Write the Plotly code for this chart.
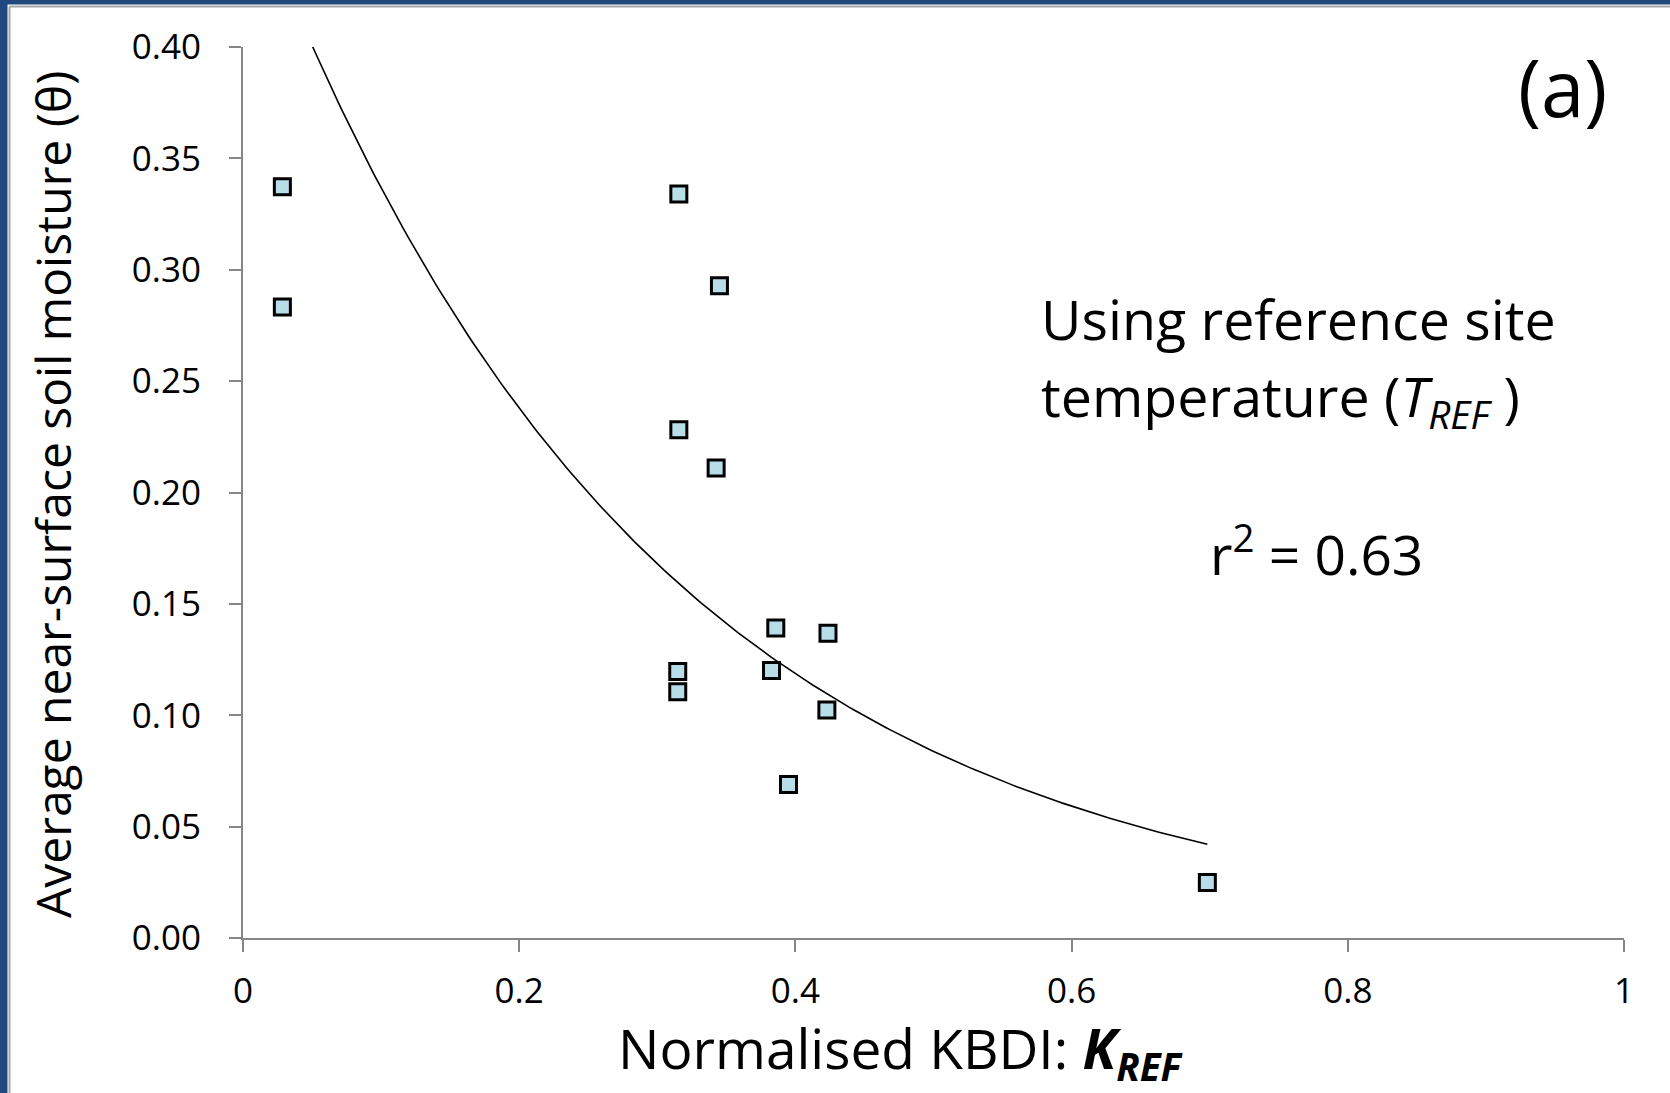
import numpy as np
import plotly.graph_objects as go

# ---- data ----
kref = [0.0285, 0.0285, 0.3156, 0.3450, 0.3156, 0.3426, 0.3858,
        0.4236, 0.3148, 0.3148, 0.3827, 0.4228, 0.3950, 0.6983]
theta = [0.3373, 0.2833, 0.3340, 0.2928, 0.2282, 0.2110, 0.1392,
         0.1368, 0.1196, 0.1105, 0.1201, 0.1024, 0.0689, 0.0249]
x_ticks = [0, 0.2, 0.4, 0.6, 0.8, 1]
y_ticks = [0.00, 0.05, 0.10, 0.15, 0.20, 0.25, 0.30, 0.35, 0.40]

# exponential trendline fitted to the data (as Excel does: ln y = ln a + b x)
b_fit, lna_fit = np.polyfit(np.array(kref), np.log(np.array(theta)), 1)
x_fit = np.linspace(min(kref), max(kref), 200)
y_fit = np.exp(lna_fit) * np.exp(b_fit * x_fit)

W, H = 1670, 1093
L, R, T, B = 243, 46, 47, 155
PW, PH = W - L - R, H - T - B


def px(xp):
    return (xp - L) / PW


def py(yp):
    return 1 - (yp - T) / PH


FONT = "Open Sans"
AXC = "#868686"

fig = go.Figure()
fig.add_trace(go.Scatter(x=x_fit, y=y_fit, mode="lines",
                         line=dict(color="black", width=1.6),
                         hoverinfo="skip", showlegend=False))
fig.add_trace(go.Scatter(x=kref, y=theta, mode="markers",
                         marker=dict(symbol="square", size=16, color="#B7DEE8",
                                     line=dict(color="black", width=3)),
                         showlegend=False))

fig.update_layout(
    width=W, height=H,
    margin=dict(l=L, r=R, t=T, b=B, pad=0),
    paper_bgcolor="white", plot_bgcolor="white",
    font=dict(family=FONT, color="black"),
    showlegend=False,
)
fig.update_xaxes(range=[0, 1], tickvals=x_ticks, ticktext=[f"{v:g}" for v in x_ticks],
                 showgrid=False, zeroline=False, showline=True,
                 linecolor=AXC, linewidth=2, ticks="outside", ticklen=12,
                 tickwidth=2, tickcolor=AXC, tickfont=dict(size=35, family=FONT),
                 ticklabelstandoff=9)
fig.update_yaxes(range=[0, 0.4], tickvals=y_ticks, ticktext=[f"{v:.2f}" for v in y_ticks],
                 showgrid=False, zeroline=False, showline=True,
                 linecolor=AXC, linewidth=2, ticks="outside", ticklen=12,
                 tickwidth=2, tickcolor=AXC, tickfont=dict(size=35, family=FONT),
                 ticklabelstandoff=21)

ann = []
ann.append(dict(x=px(1562), y=py(87), xref="paper", yref="paper",
                text="(a)", showarrow=False, xanchor="center", yanchor="middle",
                font=dict(size=78, family=FONT)))
ann.append(dict(x=px(1039), y=py(279), xref="paper", yref="paper",
                text="Using reference site", showarrow=False,
                xanchor="left", yanchor="top", font=dict(size=55.5, family=FONT)))
ann.append(dict(x=px(1039), y=py(356), xref="paper", yref="paper",
                text="temperature (<i>T</i><sub><i>REF</i></sub> )", showarrow=False,
                xanchor="left", yanchor="top", font=dict(size=55.5, family=FONT)))
ann.append(dict(x=px(1208), y=py(593), xref="paper", yref="paper",
                text="r<sup>2</sup> = 0.63", showarrow=False,
                xanchor="left", yanchor="bottom", font=dict(size=55, family=FONT)))
ann.append(dict(x=px(616), y=py(1008), xref="paper", yref="paper",
                text="Normalised KBDI: <b><i>K</i></b><sub><b><i>REF</i></b></sub>",
                showarrow=False, xanchor="left", yanchor="top",
                font=dict(size=55, family=FONT)))
ann.append(dict(x=px(52), y=py(495), xref="paper", yref="paper",
                text="Average near-surface soil moisture (θ)", textangle=-90,
                showarrow=False, xanchor="center", yanchor="middle",
                font=dict(size=48, family=FONT)))
fig.update_layout(annotations=ann)

# frame (blue border with thin grey inner line)
BLUE = "#1F497D"
GREY = "#A6A6A6"
shapes = [
    dict(type="rect", xref="paper", yref="paper", x0=px(0), x1=px(7.5), y0=py(H), y1=py(0),
         fillcolor=BLUE, line=dict(width=0), layer="above"),
    dict(type="rect", xref="paper", yref="paper", x0=px(0), x1=px(W), y0=py(4.5), y1=py(0),
         fillcolor=BLUE, line=dict(width=0), layer="above"),
    dict(type="line", xref="paper", yref="paper", x0=px(9.5), x1=px(9.5), y0=py(6.5), y1=py(H),
         line=dict(color=GREY, width=2), layer="above"),
    dict(type="line", xref="paper", yref="paper", x0=px(9.5), x1=px(W), y0=py(6.5), y1=py(6.5),
         line=dict(color=GREY, width=2), layer="above"),
]
fig.update_layout(shapes=shapes)

fig.write_html("out.html", config={"displayModeBar": False},
               post_script="document.body.style.margin='0';document.body.style.overflow='hidden';")
